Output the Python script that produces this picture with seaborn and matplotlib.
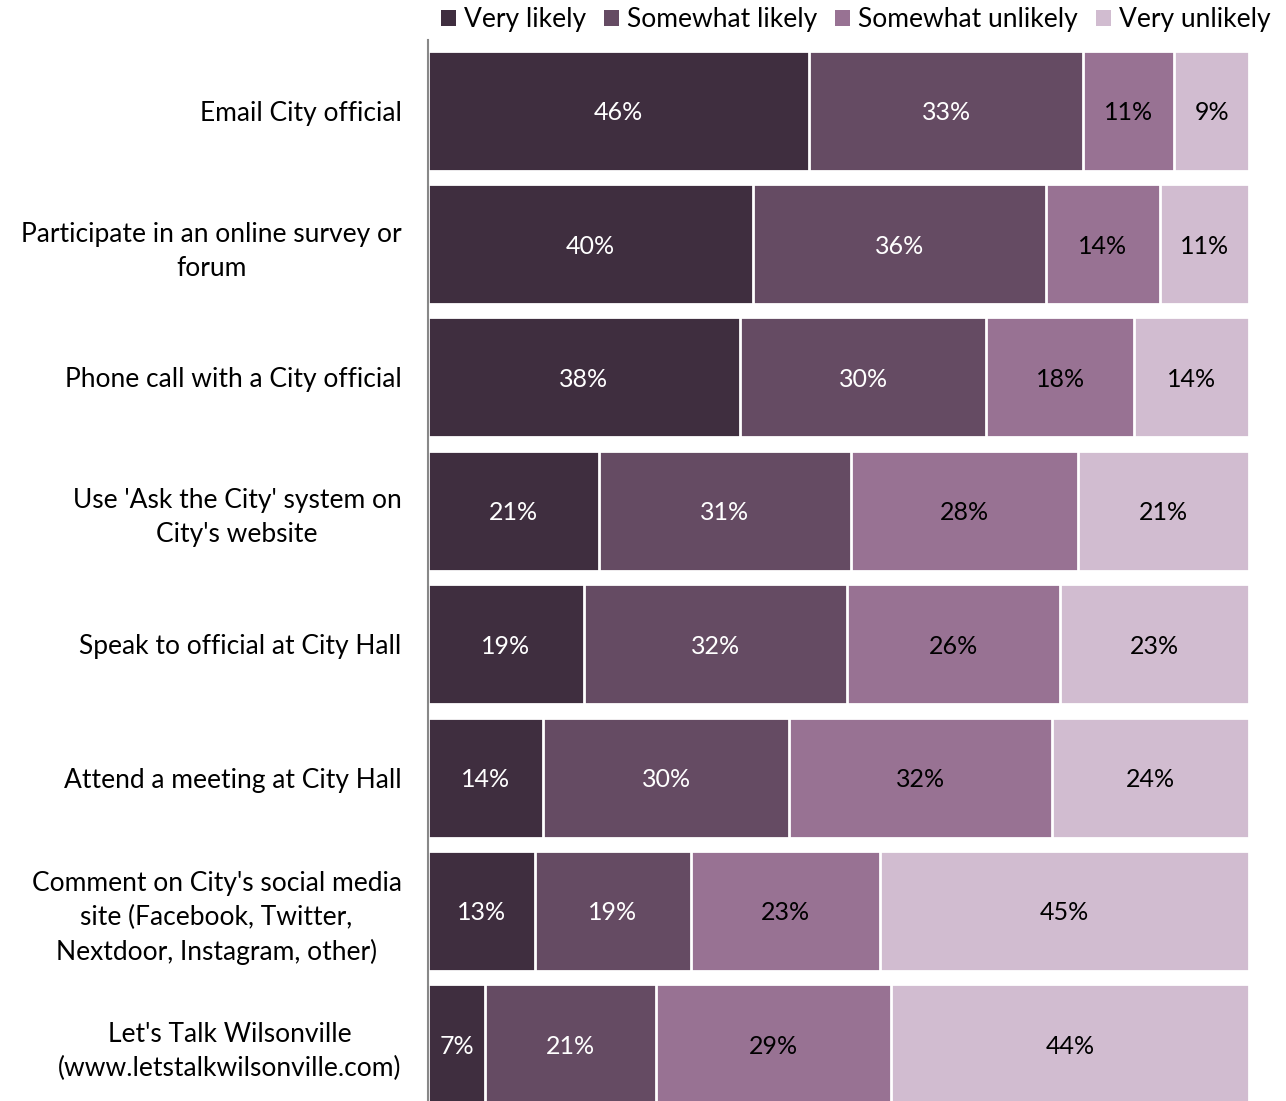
import matplotlib
matplotlib.use("Agg")
import matplotlib.pyplot as plt
from matplotlib.patches import Patch
import seaborn as sns
import pandas as pd
import numpy as np

# survey items (top to bottom)
items = [
    "Email City official",
    "Participate in an online survey or\nforum",
    "Phone call with a City official",
    "Use 'Ask the City' system on\nCity's website",
    "Speak to official at City Hall",
    "Attend a meeting at City Hall",
    "Comment on City's social media\nsite (Facebook, Twitter,\nNextdoor, Instagram, other)",
    "Let's Talk Wilsonville\n(www.letstalkwilsonville.com)",
]
very_likely = [46, 40, 38, 21, 19, 14, 13, 7]
somewhat_likely = [33, 36, 30, 31, 32, 30, 19, 21]
somewhat_unlikely = [11, 14, 18, 28, 26, 32, 23, 29]
very_unlikely = [9, 11, 14, 21, 23, 24, 45, 44]

categories = ["Very likely", "Somewhat likely", "Somewhat unlikely", "Very unlikely"]
colors = ["#3F2E3F", "#654B63", "#987293", "#D1BCD0"]
text_colors = ["white", "white", "black", "black"]

df = pd.DataFrame({
    "item": items,
    "Very likely": very_likely,
    "Somewhat likely": somewhat_likely,
    "Somewhat unlikely": somewhat_unlikely,
    "Very unlikely": very_unlikely,
})

# shares normalised so each bar fills 100% (published values are rounded)
vals = df[categories].astype(float)
share = vals.div(vals.sum(axis=1), axis=0) * 100
cum = share.cumsum(axis=1)

plt.rcParams["font.family"] = ["Lato", "DejaVu Sans"]
fig = plt.figure(figsize=(12.86, 11.01), dpi=100)
ax = fig.add_axes([428 / 1286, -0.009, (1249 - 428) / 1286, 0.969])

# draw cumulative bars from the longest down so they stack
for i in reversed(range(len(categories))):
    plot_df = pd.DataFrame({"item": df["item"], "x": cum[categories[i]]})
    sns.barplot(data=plot_df, x="x", y="item", orient="h", color=colors[i],
                saturation=1, width=0.9, edgecolor="white", linewidth=2, ax=ax)

# value labels
for r in range(len(items)):
    for i, c in enumerate(categories):
        left = cum.iloc[r, i] - share.iloc[r, i]
        ax.text(left + share.iloc[r, i] / 2, r, f"{df[c].iloc[r]}%",
                ha="center", va="center_baseline", color=text_colors[i], fontsize=18)

ax.set_xlim(0, 100)
ax.set_ylim(len(items) - 0.5, -0.5)
ax.set_xlabel("")
ax.set_ylabel("")
ax.set_xticks([])
ax.tick_params(axis="y", length=0, pad=19, labelsize=19)
for lab in ax.get_yticklabels():
    lab.set_multialignment("center")
    lab.set_linespacing(1.45)
for s in ["top", "right", "bottom"]:
    ax.spines[s].set_visible(False)
ax.spines["left"].set_color("#888888")
ax.spines["left"].set_linewidth(1.5)
ax.spines["left"].set_bounds(len(items) - 0.5, -0.53)

handles = [Patch(facecolor=col, edgecolor="none") for col in colors]
fig.legend(handles, categories, loc="upper right", bbox_to_anchor=(1.0, 1.008),
           ncol=4, frameon=False, fontsize=19, handlelength=0.55, handleheight=0.55,
           handletextpad=0.3, columnspacing=0.7, borderaxespad=0.2)

fig.savefig("out.png", dpi=100)
